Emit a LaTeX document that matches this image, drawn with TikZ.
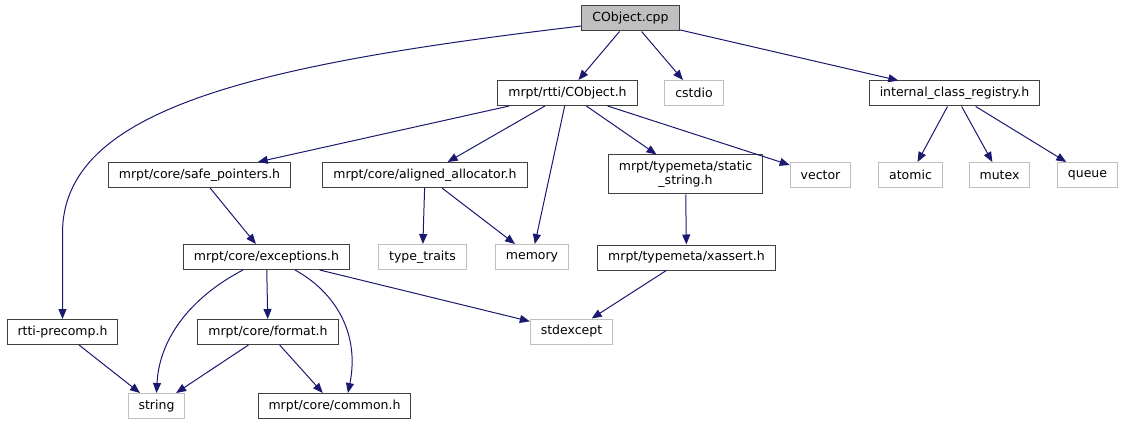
\documentclass[tikz,border=0pt]{standalone}
\usepackage{fontspec}
\setmainfont{DejaVu Sans}
\usepackage{tikz}
\usetikzlibrary{arrows.meta}
\definecolor{edgeblue}{HTML}{191970}
\definecolor{boxgray}{HTML}{BFBFBF}
\tikzset{%
  filenode/.style = {shape=rectangle, draw=black!75, line width=1pt,%
                     align=center, inner xsep=10.5pt, inner ysep=0pt,%
                     minimum height=25pt, font=\fontsize{12.5pt}{14pt}\selectfont},%
  root/.style     = {filenode, fill=boxgray},%
  sysnode/.style  = {filenode, draw=boxgray},%
  dep/.style      = {draw=edgeblue, line width=1pt,%
                     -{Triangle[length=10pt,width=8pt,fill=edgeblue]}}%
}
\begin{document}
\begin{tikzpicture}[x=1pt, y=-1pt]%
	\useasboundingbox (0,0) rectangle (1125,425);%
	% top rows
	\node [root]    (cpp)    at (630.5,18.5) {CObject.cpp};%
	\node [filenode](cobj)   at (567.5,93)   {mrpt/rtti/CObject.h};%
	\node [sysnode] (cstdio) at (694,93)     {cstdio};%
	\node [filenode](icr)    at (954.5,93.5) {internal\_class\_registry.h};%
	\node [filenode](safe)   at (199.5,175)  {mrpt/core/safe\_pointers.h};%
	\node [filenode](align)  at (425,175)    {mrpt/core/aligned\_allocator.h};%
	\node [filenode, minimum height=39pt](static) at (685.5,174.5) {mrpt/typemeta/static\\\_string.h};%
	\node [sysnode] (vector) at (820.5,175)  {vector};%
	\node [sysnode] (atomic) at (910.5,175)  {atomic};%
	\node [sysnode] (mutex)  at (999.5,175)  {mutex};%
	\node [sysnode] (queue)  at (1087.5,175) {queue};%
	% lower rows
	\node [filenode](exc)    at (266.5,257)  {mrpt/core/exceptions.h};%
	\node [sysnode] (tt)     at (422.5,257)  {type\_traits};%
	\node [sysnode] (memory) at (532,257)    {memory};%
	\node [filenode](xassert)at (686.5,257.5){mrpt/typemeta/xassert.h};%
	\node [filenode](pre)    at (62.5,332)   {rtti-precomp.h};%
	\node [filenode](format) at (268,332)    {mrpt/core/format.h};%
	\node [sysnode] (stdexc) at (571.5,331.5){stdexcept};%
	\node [sysnode] (string) at (156.5,406)  {string};%
	\node [filenode](common) at (334.5,406)  {mrpt/core/common.h};%
	% includes
	\draw [dep] ([yshift=-7.5pt]cpp.west) .. controls (250,65) and (62.5,110) .. (62.5,233) -- (pre.north);%
	\draw [dep] (cpp) -- (cobj);%
	\draw [dep] (cpp) -- (cstdio);%
	\draw [dep] (cpp) -- (icr);%
	\draw [dep] (cobj) -- (safe);%
	\draw [dep] (cobj) -- (align);%
	\draw [dep] (cobj) -- (memory);%
	\draw [dep] (cobj) -- (static);%
	\draw [dep] (cobj) -- (vector);%
	\draw [dep] (icr) -- (atomic);%
	\draw [dep] (icr) -- (mutex);%
	\draw [dep] (icr) -- (queue);%
	\draw [dep] (safe) -- (exc);%
	\draw [dep] (align) -- (tt);%
	\draw [dep] (align) -- (memory);%
	\draw [dep] (static) -- (xassert);%
	\draw [dep] ([xshift=-23.5pt]exc.south) .. controls +(-48,25) and +(3,-58) .. (string.north);%
	\draw [dep] (exc) -- (format);%
	\draw [dep] ([xshift=28.5pt]exc.south) .. controls +(40,22) and +(12,-60) .. ([xshift=13.5pt]common.north);%
	\draw [dep] (exc) -- (stdexc);%
	\draw [dep] (xassert) -- (stdexc);%
	\draw [dep] (pre) -- (string);%
	\draw [dep] (format) -- (string);%
	\draw [dep] (format) -- (common);%
\end{tikzpicture}
\end{document}
